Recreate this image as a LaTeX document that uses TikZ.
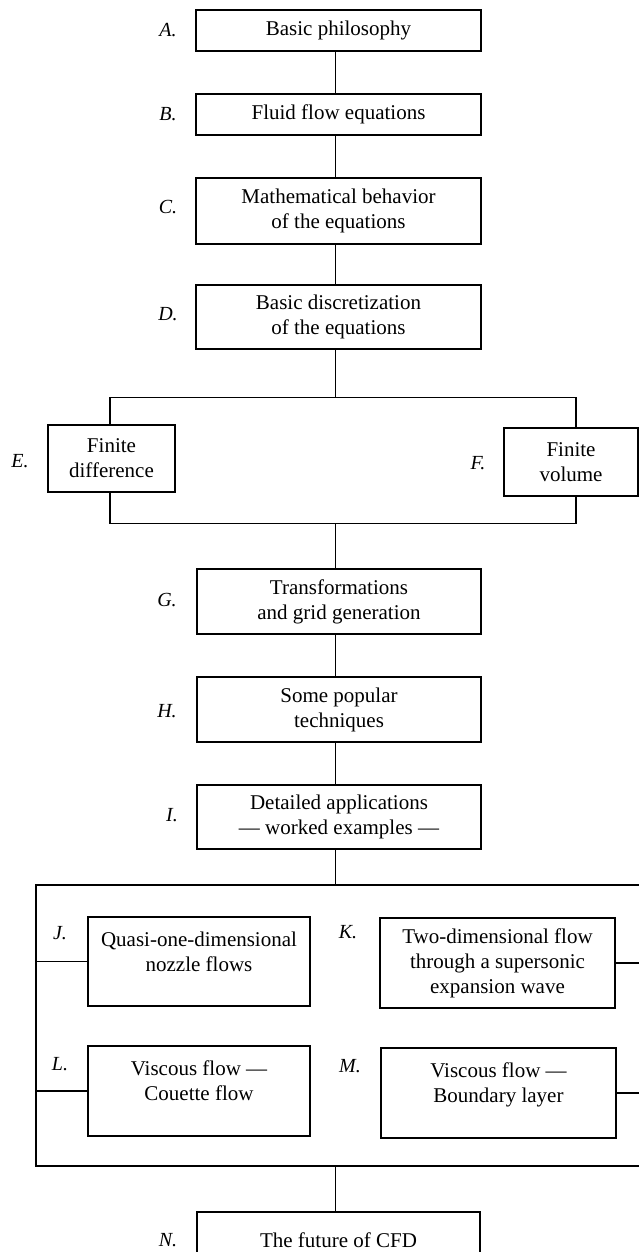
\documentclass[tikz,border=0pt]{standalone}
\usepackage{fontspec}
\setmainfont{Liberation Serif}
\begin{document}
\begin{tikzpicture}[x=1pt,y=-1pt,
  box/.style={draw, line width=1.4pt, align=center, inner sep=0pt,
    font=\fontsize{21}{25}\selectfont},
  lab/.style={inner sep=0pt, font=\fontsize{20}{24}\selectfont\itshape},
  conn/.style={line width=1.4pt}]
\useasboundingbox (0,0) rectangle (639,1252);
\clip (0,0) rectangle (639,1252);
\fill[white] (0,0) rectangle (639,1252);

% main column boxes
\node[box, minimum width=285, minimum height=41] (A) at (338.5,30.5) {Basic philosophy};
\node[box, minimum width=285, minimum height=41] (B) at (338.5,114.5) {Fluid flow equations};
\node[box, minimum width=285, minimum height=66] (C) at (338.5,211) {Mathematical behavior\\of the equations};
\node[box, minimum width=285, minimum height=64] (D) at (338.5,317) {Basic discretization\\of the equations};
\node[box, minimum width=127, minimum height=67] (E) at (111.5,458.5) {Finite\\difference};
\node[box, minimum width=134, minimum height=68] (F) at (571,462) {Finite\\volume};
\node[box, minimum width=284, minimum height=65] (G) at (339,601.5) {Transformations\\and grid generation};
\node[box, minimum width=284, minimum height=65] (H) at (339,709.5) {Some popular\\techniques};
\node[box, minimum width=284, minimum height=64] (I) at (339,817) {Detailed applications\\--- worked examples ---};
\node[box, minimum width=222, minimum height=89] (J) at (199,961.5) {\rule{0pt}{27pt}Quasi-one-dimensional\\nozzle flows\\\strut};
\node[box, minimum width=235, minimum height=90] (K) at (497.5,963) {Two-dimensional flow\\through a supersonic\\expansion wave};
\node[box, minimum width=222, minimum height=90] (L) at (199,1091) {\rule{0pt}{27pt}Viscous flow ---\\Couette flow\\\strut};
\node[box, minimum width=235, minimum height=90] (M) at (498.5,1093) {\rule{0pt}{27pt}Viscous flow ---\\Boundary layer\\\strut};
\node[box, minimum width=283, minimum height=56] (N) at (338.5,1240) {The future of CFD};

% letter labels
\node[lab] (lA) at (168,30) {A.};
\node[lab] (lB) at (168,114) {B.};
\node[lab] (lC) at (168,207) {C.};
\node[lab] (lD) at (168,314) {D.};
\node[lab] (lE) at (20,461) {E.};
\node[lab] (lF) at (478,463) {F.};
\node[lab] (lG) at (167,600) {G.};
\node[lab] (lH) at (167,711) {H.};
\node[lab] (lI) at (172,815) {I.};
\node[lab] (lJ) at (60,933) {J.};
\node[lab] (lK) at (348,932) {K.};
\node[lab] (lL) at (60,1064) {L.};
\node[lab] (lM) at (350,1066) {M.};
\node[lab] (lN) at (168,1240) {N.};

% helper coordinates
\coordinate (spine) at (335.5,0);
\coordinate (efL) at (110,0);
\coordinate (efR) at (576,0);
\coordinate (eftop) at (335.5,397.5);
\coordinate (efbot) at (335.5,523.5);
\coordinate (jmL) at (36,0);
\coordinate (jmR) at (655,0);
\coordinate (jmtop) at (335.5,885);
\coordinate (jmbot) at (335.5,1166);

% connectors
\draw[conn] (A.south -| spine) -- (B.north -| spine);
\draw[conn] (B.south -| spine) -- (C.north -| spine);
\draw[conn] (C.south -| spine) -- (D.north -| spine);
\draw[conn] (D.south -| spine) -- (eftop);
\draw[conn] (E.north -| efL) -- (efL |- eftop) -- (efR |- eftop) -- (F.north -| efR);
\draw[conn] (E.south -| efL) -- (efL |- efbot) -- (efR |- efbot) -- (F.south -| efR);
\draw[conn] (efbot) -- (G.north -| spine);
\draw[conn] (G.south -| spine) -- (H.north -| spine);
\draw[conn] (H.south -| spine) -- (I.north -| spine);
\draw[conn] (I.south -| spine) -- (jmtop);
\draw[conn] (jmL |- jmtop) rectangle (jmR |- jmbot);
\draw[conn] (J.west) -- (J.west -| jmL);
\draw[conn] (L.west) -- (L.west -| jmL);
\draw[conn] (K.east) -- (K.east -| jmR);
\draw[conn] (M.east) -- (M.east -| jmR);
\draw[conn] (jmbot) -- (N.north -| spine);
\end{tikzpicture}
\end{document}
